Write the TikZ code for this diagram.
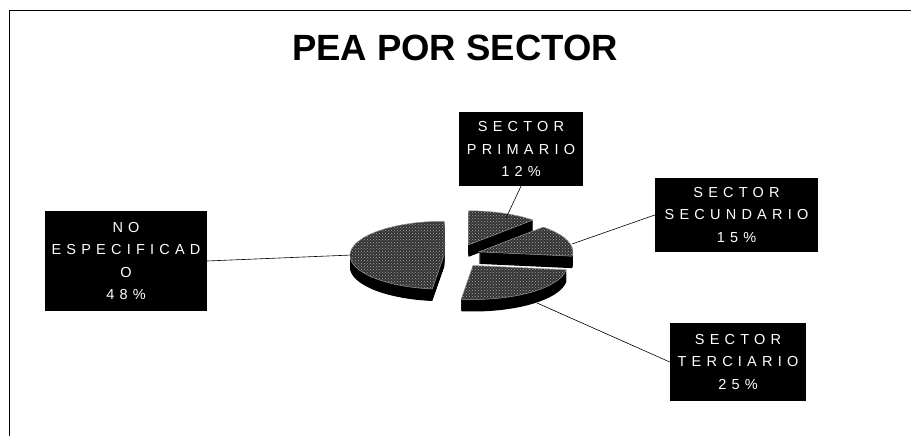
\documentclass[tikz,border=0pt]{standalone}
\usepackage{fontspec}
\setmainfont{Liberation Sans}
\newfontfamily\lblfont[LetterSpace=36]{Liberation Sans}
\usetikzlibrary{patterns}
\tikzset{
  frame/.style={line width=0.9pt, black},
  lblbox/.style={fill=black, text=white, inner sep=0pt, align=center,
    font=\lblfont\fontsize{14.5}{22.5}\selectfont},
  conn/.style={line width=0.6pt, black},
  sidecol/.style={fill=black},
  topcol/.style={fill=black!80},
  topdots/.style={pattern=crosshatch dots, pattern color=white!65!black},
  topedge/.style={draw=white!60!black, line width=0.5pt}
}
\newcommand\slicepie[4]{%
  \begin{scope}[shift={(462+#3,180+#4)}]
    \foreach \k in {12,11.5,...,0.5}{%
      \fill[sidecol] (0,-\k) -- ++(#1:94 and 34) arc[start angle=#1,end angle=#2,x radius=94,y radius=34] -- cycle;}
    \fill[topcol] (0,0) -- (#1:94 and 34) arc[start angle=#1,end angle=#2,x radius=94,y radius=34] -- cycle;
    \fill[topdots] (0,0) -- (#1:94 and 34) arc[start angle=#1,end angle=#2,x radius=94,y radius=34] -- cycle;
    \draw[topedge] (0,0) -- (#1:94 and 34) arc[start angle=#1,end angle=#2,x radius=94,y radius=34] -- cycle;
  \end{scope}}
\begin{document}
\begin{tikzpicture}[x=1pt,y=1pt]
  \useasboundingbox (0,0) rectangle (911,436);
  % frame
  \draw[frame] (9,0) -- (9,426) -- (911,426);
  % title
  \node[font=\bfseries\fontsize{36.5}{40}\selectfont] (title) at (455,388) {PEA POR SECTOR};
  % pie slices (back to front)
  \slicepie{46.8}{90}{6.6}{11.2}
  \slicepie{-7.2}{46.8}{16.9}{4.1}
  \slicepie{90}{262.8}{-18}{0.75}
  \slicepie{-97.2}{-7.2}{11}{-9.5}
  % anchor points on the pie
  \coordinate (pL) at (352,181);
  \coordinate (pP) at (506,218);
  \coordinate (pS) at (572,192);
  \coordinate (pT) at (537,133);
  % label boxes
  \node[lblbox, minimum width=124pt, minimum height=74pt] (prim) at (521,287) {SECTOR\\PRIMARIO\\12\%};
  \node[lblbox, minimum width=163pt, minimum height=74pt] (secu) at (736.5,221) {SECTOR\\SECUNDARIO\\15\%};
  \node[lblbox, minimum width=162pt, minimum height=100pt] (nesp) at (126,175) {NO\\ESPECIFICAD\\O\\48\%};
  \node[lblbox, minimum width=136pt, minimum height=78pt] (terc) at (738,74) {SECTOR\\TERCIARIO\\25\%};
  % connectors
  \draw[conn] (nesp.east) -- (pL);
  \draw[conn] (prim.south) -- (pP);
  \draw[conn] (secu.west) -- (pS);
  \draw[conn] (terc.west) -- (pT);
\end{tikzpicture}
\end{document}
